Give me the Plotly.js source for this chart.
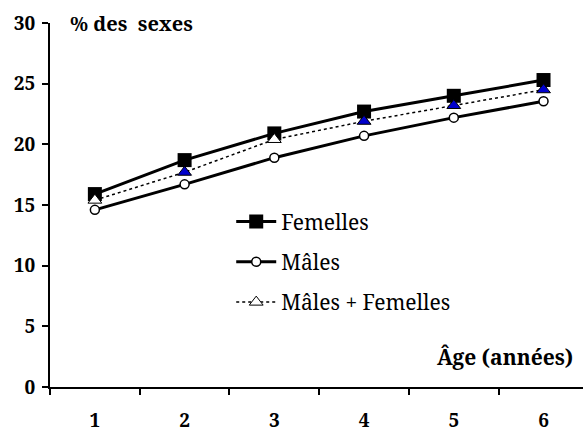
<!DOCTYPE html>
<html>
<head>
<meta charset="utf-8">
<script src="https://cdn.plot.ly/plotly-3.0.1.min.js"></script>
<style>html,body{margin:0;padding:0;background:#fff;}#chart{width:583px;height:432px;}</style>
</head>
<body>
<div id="chart"></div>
<script>
const ages = ['1', '2', '3', '4', '5', '6'];
const femelles = [15.9, 18.7, 20.9, 22.7, 24.0, 25.3];
const males = [14.6, 16.7, 18.9, 20.7, 22.2, 23.55];
const ensemble = [15.4, 17.7, 20.4, 21.9, 23.2, 24.5];
const ensembleFill = ['#ffffff', '#0000cc', '#ffffff', '#0000cc', '#0000cc', '#0000cc'];
const yTicks = [0, 5, 10, 15, 20, 25, 30];

const SERIF = 'Noto Serif';
const boldFont = {family: SERIF, size: 19, color: '#000'};

const traces = [
  {x: ages, y: femelles, name: 'Femelles', type: 'scatter', mode: 'lines+markers',
   legendgroup: 'f', legendrank: 1,
   line: {color: '#000', width: 3},
   marker: {symbol: 'square', size: 14, color: '#000'}},
  {x: ages, y: ensemble, name: 'Mâles + Femelles', type: 'scatter', mode: 'lines+markers',
   legendgroup: 'e', legendrank: 3,
   line: {color: '#000', width: 1.5, dash: 'dot'},
   marker: {symbol: 'triangle-up', size: 12, color: ensembleFill, line: {color: '#000', width: 1}}},
  {x: ages, y: males, name: 'Mâles', type: 'scatter', mode: 'lines+markers',
   legendgroup: 'm', legendrank: 2,
   line: {color: '#000', width: 3},
   marker: {symbol: 'circle', size: 9, color: '#fff', line: {color: '#000', width: 1.5}}}
];

const layout = {
  width: 583, height: 432,
  margin: {l: 50, r: 0, t: 23, b: 45},
  paper_bgcolor: '#fff', plot_bgcolor: '#fff',
  showlegend: true,
  legend: {x: 0.34, y: 0.51, xanchor: 'left', yanchor: 'top',
    traceorder: 'grouped', tracegroupgap: 10,
    font: {family: SERIF, size: 21, color: '#000'},
    bgcolor: 'rgba(0,0,0,0)', itemwidth: 40},
  xaxis: {type: 'category', range: [-0.5, 5.44], tickson: 'boundaries',
    tickvals: ages, ticktext: ages.map(a => '<b>' + a + '</b>'),
    showgrid: false, zeroline: false, showline: true, linecolor: '#000', linewidth: 2,
    ticks: 'outside', ticklen: 6, tickwidth: 2, tickcolor: '#000',
    ticklabelstandoff: 15, tickfont: boldFont},
  yaxis: {range: [0, 30], tickvals: yTicks, ticktext: yTicks.map(v => '<b>' + v + '</b>'),
    showgrid: false, zeroline: false, showline: true, linecolor: '#000', linewidth: 2,
    ticks: 'outside', ticklen: 6, tickwidth: 2, tickcolor: '#000',
    ticklabelstandoff: 3, tickfont: boldFont},
  annotations: [
    {text: '<b>% des&nbsp; sexes</b>', xref: 'paper', yref: 'paper', x: 0.033, y: 1.0,
     xanchor: 'left', yanchor: 'middle', showarrow: false,
     font: {family: SERIF, size: 20, color: '#000'}},
    {text: '<b>Âge (années)</b>', xref: 'paper', yref: 'paper', x: 0.985, y: 0.083,
     xanchor: 'right', yanchor: 'middle', showarrow: false,
     font: {family: SERIF, size: 21, color: '#000'}}
  ]
};

Plotly.newPlot('chart', traces, layout, {displayModeBar: false, staticPlot: true});
</script>
</body>
</html>
